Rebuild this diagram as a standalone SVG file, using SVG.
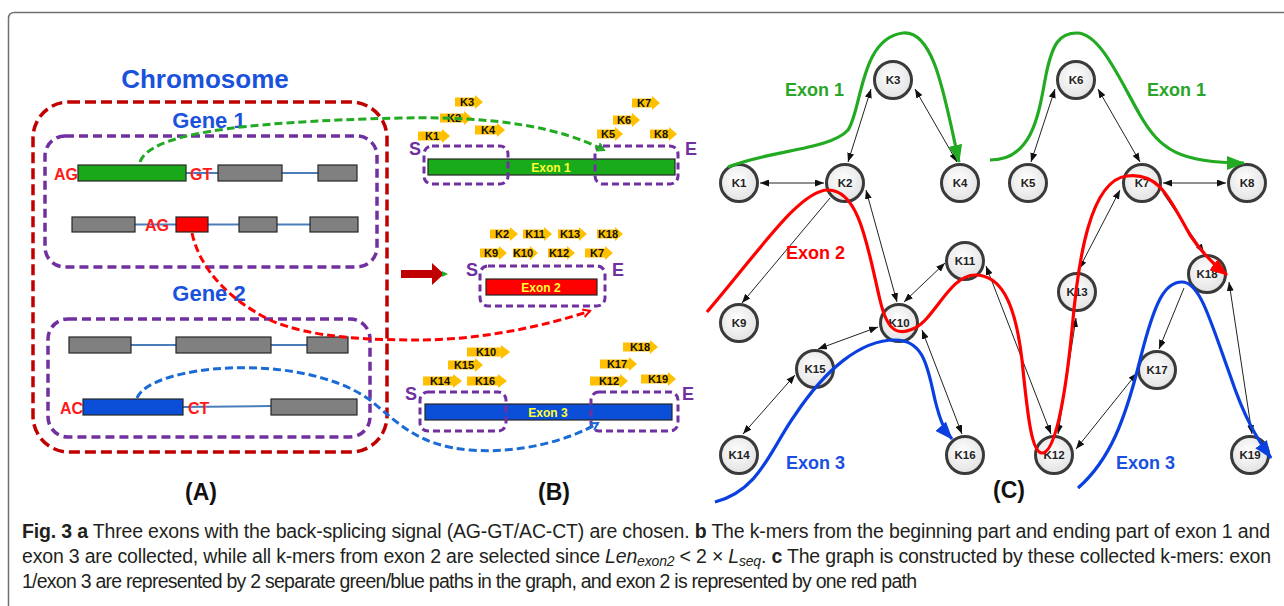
<svg xmlns="http://www.w3.org/2000/svg" width="1284" height="606" viewBox="0 0 1284 606">
<style>
.lbl{font-family:"Liberation Sans",Arial,sans-serif;font-weight:bold}
.blue{fill:#1a52dc}
.sig{fill:#ff1a1a;font-size:16px}
.ex{stroke:#262626;stroke-width:1.2}
.gray{fill:#808080}
.intron{stroke:#4a7ebb;stroke-width:2;fill:none}
.chrom{fill:none;stroke:#c00000;stroke-width:3.5;stroke-dasharray:11 5}
.gene{fill:none;stroke:#7030a0;stroke-width:3.5;stroke-dasharray:9 5}
.sbox{fill:none;stroke:#7030a0;stroke-width:3;stroke-dasharray:7 4}
.se{fill:#7030a0;font-size:18px}
.km{fill:#ffc000}
.kt{font-size:11px;fill:#111;text-anchor:middle}
.barT{fill:#ffff33;font-size:12px;text-anchor:middle}
.node circle{fill:url(#ng);stroke:#3a3a3a;stroke-width:3}
.node text{font-family:"Liberation Sans",Arial,sans-serif;font-weight:bold;font-size:11.5px;fill:#222;text-anchor:middle}
.edge{stroke:#222;stroke-width:1;fill:none}
.dbl{marker-start:url(#ah);marker-end:url(#ah)}
.one{marker-end:url(#ah)}
.cap{font-family:"Liberation Sans",Arial,sans-serif;font-size:19.5px;fill:#231f20}
</style>
<defs>
<radialGradient id="ng" cx="0.45" cy="0.4" r="0.6">
<stop offset="0" stop-color="#ffffff"/>
<stop offset="1" stop-color="#e2e2e2"/>
</radialGradient>
<marker id="ah" markerUnits="userSpaceOnUse" markerWidth="9" markerHeight="7" refX="9" refY="3.5" orient="auto-start-reverse">
<path d="M0,0 L9,3.5 L0,7 Z" fill="#111"/>
</marker>
<marker id="mg" markerUnits="userSpaceOnUse" markerWidth="18" markerHeight="14" refX="17" refY="7" orient="auto">
<path d="M0,0 L18,7 L0,14 Z" fill="#22aa22"/>
</marker>
<marker id="mr" markerUnits="userSpaceOnUse" markerWidth="18" markerHeight="14" refX="17" refY="7" orient="auto">
<path d="M0,0 L18,7 L0,14 Z" fill="#ff0000"/>
</marker>
<marker id="mb" markerUnits="userSpaceOnUse" markerWidth="18" markerHeight="14" refX="17" refY="7" orient="auto">
<path d="M0,0 L18,7 L0,14 Z" fill="#0a3fe0"/>
</marker>
<marker id="og" markerUnits="userSpaceOnUse" markerWidth="10" markerHeight="10" refX="8" refY="5" orient="auto">
<path d="M1,1 L8,5 L1,9" fill="none" stroke="#22aa22" stroke-width="2"/>
</marker>
<marker id="or" markerUnits="userSpaceOnUse" markerWidth="10" markerHeight="10" refX="8" refY="5" orient="auto">
<path d="M1,1 L8,5 L1,9" fill="none" stroke="#ff0000" stroke-width="2"/>
</marker>
<marker id="ob" markerUnits="userSpaceOnUse" markerWidth="10" markerHeight="10" refX="8" refY="5" orient="auto">
<path d="M1,1 L8,5 L1,9" fill="none" stroke="#1b6bd6" stroke-width="2"/>
</marker>
</defs>

<rect width="1284" height="606" fill="#ffffff"/>
<path d="M8.5,606 L8.5,18.5 Q8.5,12.5 14.5,12.5 L1284,12.5" fill="none" stroke="#707070" stroke-width="1.5"/>

<!-- Panel A -->
<g id="panelA">
<text class="lbl blue" x="205" y="88" font-size="26" text-anchor="middle">Chromosome</text>
<rect id="chromosome" class="chrom" x="33" y="102" width="354" height="350" rx="36"/>
<g id="gene1">
<text class="lbl blue" x="209" y="128" font-size="22" text-anchor="middle">Gene 1</text>
<rect class="gene" x="45" y="136" width="332" height="131" rx="20"/>
<line class="intron" x1="186" y1="173" x2="218" y2="173"/>
<line class="intron" x1="282" y1="173" x2="318" y2="173"/>
<text class="lbl sig" x="54" y="180">AG</text>
<rect class="ex" x="78" y="165" width="108" height="16" fill="#19a819"/>
<text class="lbl sig" x="190" y="180">GT</text>
<rect class="ex gray" x="218" y="165" width="64" height="16"/>
<rect class="ex gray" x="318" y="165" width="39" height="16"/>
<line class="intron" x1="135" y1="224.5" x2="176" y2="224.5"/>
<line class="intron" x1="208" y1="224.5" x2="239" y2="224.5"/>
<line class="intron" x1="277" y1="224.5" x2="310" y2="224.5"/>
<rect class="ex gray" x="72" y="217" width="63" height="15"/>
<text class="lbl sig" x="145" y="231">AG</text>
<rect class="ex" x="176" y="217" width="32" height="15" fill="#ff0000"/>
<rect class="ex gray" x="239" y="217" width="38" height="15"/>
<rect class="ex gray" x="310" y="217" width="48" height="15"/>
</g>
<g id="gene2">
<text class="lbl blue" x="209" y="301" font-size="22" text-anchor="middle">Gene 2</text>
<rect class="gene" x="48" y="319" width="322" height="118" rx="20"/>
<line class="intron" x1="131" y1="345" x2="176" y2="345"/>
<line class="intron" x1="271" y1="345" x2="307" y2="345"/>
<rect class="ex gray" x="69" y="337" width="62" height="16"/>
<rect class="ex gray" x="176" y="337" width="95" height="16"/>
<rect class="ex gray" x="307" y="337" width="41" height="16"/>
<line class="intron" x1="183" y1="407" x2="271" y2="406"/>
<text class="lbl sig" x="60" y="414">AC</text>
<rect class="ex" x="83" y="399" width="100" height="16" fill="#0b4fd8"/>
<text class="lbl sig" x="188" y="414">CT</text>
<rect class="ex gray" x="271" y="399" width="86" height="16"/>
</g>
<text class="lbl" x="201" y="500" font-size="23" text-anchor="middle" fill="#111">(A)</text>
</g>

<!-- Panel B -->
<g id="panelB">
<g id="exon1">
<rect class="ex" x="428" y="159" width="247" height="16" fill="#1aab1a"/>
<text class="lbl barT" x="551" y="171.5">Exon 1</text>
<rect class="sbox" x="424" y="146" width="84" height="38" rx="8"/>
<rect class="sbox" x="595" y="146" width="83" height="38" rx="8"/>
<text class="lbl se" x="409" y="155">S</text>
<text class="lbl se" x="685" y="155">E</text>
<g class="lbl">
<path class="km" d="M455,97.5 h20 v-2.5 l8,7 l-8,7 v-2.5 h-20 z"/><text class="kt" x="467" y="106">K3</text>
<path class="km" d="M440,113.5 h24 v-2.5 l8,7 l-8,7 v-2.5 h-24 z"/><text class="kt" x="454" y="122">K2</text>
<path class="km" d="M475,125.5 h22 v-2.5 l8,7 l-8,7 v-2.5 h-22 z"/><text class="kt" x="488" y="134">K4</text>
<path class="km" d="M418,131.5 h24 v-2.5 l8,7 l-8,7 v-2.5 h-24 z"/><text class="kt" x="432" y="140">K1</text>
<path class="km" d="M632,98.5 h20 v-2.5 l8,7 l-8,7 v-2.5 h-20 z"/><text class="kt" x="644" y="107">K7</text>
<path class="km" d="M613,115.5 h19 v-2.5 l8,7 l-8,7 v-2.5 h-19 z"/><text class="kt" x="624" y="124">K6</text>
<path class="km" d="M597,129.5 h18 v-2.5 l8,7 l-8,7 v-2.5 h-18 z"/><text class="kt" x="608" y="138">K5</text>
<path class="km" d="M650,129.5 h19 v-2.5 l8,7 l-8,7 v-2.5 h-19 z"/><text class="kt" x="661" y="138">K8</text>
</g>
</g>
<g id="exon2">
<rect class="ex" x="486" y="279" width="111" height="16" fill="#ff0000"/>
<text class="lbl barT" x="541" y="291.5">Exon 2</text>
<rect class="sbox" x="480" y="266" width="125" height="40" rx="8"/>
<text class="lbl se" x="466" y="276">S</text>
<text class="lbl se" x="612" y="276">E</text>
<g class="lbl">
<path class="km" d="M490,229.5 h20 v-2.5 l8,7 l-8,7 v-2.5 h-20 z"/><text class="kt" x="502" y="238">K2</text>
<path class="km" d="M523,229.5 h21 v-2.5 l8,7 l-8,7 v-2.5 h-21 z"/><text class="kt" x="535" y="238">K11</text>
<path class="km" d="M558,229.5 h21 v-2.5 l8,7 l-8,7 v-2.5 h-21 z"/><text class="kt" x="570" y="238">K13</text>
<path class="km" d="M597,229.5 h18 v-2.5 l8,7 l-8,7 v-2.5 h-18 z"/><text class="kt" x="608" y="238">K18</text>
<path class="km" d="M480,248.5 h19 v-2.5 l8,7 l-8,7 v-2.5 h-19 z"/><text class="kt" x="491" y="257">K9</text>
<path class="km" d="M513,248.5 h17 v-2.5 l8,7 l-8,7 v-2.5 h-17 z"/><text class="kt" x="523" y="257">K10</text>
<path class="km" d="M548,248.5 h19 v-2.5 l8,7 l-8,7 v-2.5 h-19 z"/><text class="kt" x="559" y="257">K12</text>
<path class="km" d="M585,248.5 h20 v-2.5 l8,7 l-8,7 v-2.5 h-20 z"/><text class="kt" x="597" y="257">K7</text>
</g>
</g>
<g id="exon3">
<rect class="ex" x="425" y="404" width="247" height="16" fill="#0b4fd8"/>
<text class="lbl barT" x="548" y="416.5">Exon 3</text>
<rect class="sbox" x="420" y="392" width="86" height="39" rx="8"/>
<rect class="sbox" x="591" y="392" width="87" height="39" rx="8"/>
<text class="lbl se" x="405" y="400">S</text>
<text class="lbl se" x="682" y="400">E</text>
<g class="lbl">
<path class="km" d="M467,347.5 h34 v-2.5 l9,7 l-9,7 v-2.5 h-34 z"/><text class="kt" x="486" y="356">K10</text>
<path class="km" d="M448,360.5 h27 v-2.5 l8,7 l-8,7 v-2.5 h-27 z"/><text class="kt" x="464" y="369">K15</text>
<path class="km" d="M423,376.5 h30 v-2.5 l9,7 l-9,7 v-2.5 h-30 z"/><text class="kt" x="440" y="385">K14</text>
<path class="km" d="M467,376.5 h31 v-2.5 l9,7 l-9,7 v-2.5 h-31 z"/><text class="kt" x="485" y="385">K16</text>
<path class="km" d="M623,342.5 h27 v-2.5 l8,7 l-8,7 v-2.5 h-27 z"/><text class="kt" x="640" y="351">K18</text>
<path class="km" d="M600,359.5 h29 v-2.5 l8,7 l-8,7 v-2.5 h-29 z"/><text class="kt" x="617" y="368">K17</text>
<path class="km" d="M590,376.5 h30 v-2.5 l8,7 l-8,7 v-2.5 h-30 z"/><text class="kt" x="609" y="385">K12</text>
<path class="km" d="M641,374.5 h27 v-2.5 l8,7 l-8,7 v-2.5 h-27 z"/><text class="kt" x="658" y="383">K19</text>
</g>
</g>
<g id="bigArrow">
<path d="M401,270 h31 v-7 l12,11 l-12,11 v-7 h-31 z" fill="#c00000"/>
<path d="M442,271 l6,3 l-6,3 z" fill="#22aa22"/>
</g>
<text class="lbl" x="554" y="500" font-size="23" text-anchor="middle" fill="#111">(B)</text>
</g>

<!-- dashed links from panel A to panel B -->
<g id="links" fill="none" stroke-width="3" stroke-dasharray="8 4">
<path d="M140,162 C150,135 230,122 400,118 C500,116 560,128 604,150" stroke="#22aa22" marker-end="url(#og)"/>
<path d="M192,233 C200,270 230,300 270,320 C310,338 370,340 420,340 C480,340 545,326 590,311" stroke="#ff0000" marker-end="url(#or)"/>
<path d="M137,398 C150,365 300,350 370,400 C400,425 420,446 470,450 C520,454 570,440 598,423" stroke="#1b6bd6" marker-end="url(#ob)"/>
</g>

<!-- Panel C -->
<g id="connectors">
<line class="edge dbl" x1="760" y1="183" x2="824" y2="183"/>
<line class="edge dbl" x1="871" y1="89" x2="848" y2="162"/>
<line class="edge dbl" x1="915" y1="89" x2="957" y2="162"/>
<line class="edge dbl" x1="1055" y1="89" x2="1031" y2="162"/>
<line class="edge dbl" x1="1098" y1="89" x2="1140" y2="162"/>
<line class="edge dbl" x1="1163" y1="183" x2="1226" y2="183"/>
<line class="edge one" x1="830" y1="198" x2="742" y2="303"/>
<line class="edge dbl" x1="866" y1="190" x2="897" y2="302"/>
<line class="edge dbl" x1="904" y1="302" x2="945" y2="263"/>
<line class="edge dbl" x1="878" y1="327" x2="818" y2="349"/>
<line class="edge dbl" x1="795" y1="375" x2="743" y2="434"/>
<line class="edge dbl" x1="922" y1="330" x2="962" y2="434"/>
<line class="edge dbl" x1="986" y1="266" x2="1051" y2="434"/>
<line class="edge dbl" x1="1076" y1="318" x2="1058" y2="434"/>
<line class="edge dbl" x1="1120" y1="190" x2="1079" y2="269"/>
<line class="edge one" x1="1163" y1="193" x2="1204" y2="253"/>
<line class="edge one" x1="1184" y1="288" x2="1159" y2="349"/>
<line class="edge dbl" x1="1229" y1="282" x2="1252" y2="434"/>
<line class="edge dbl" x1="1137" y1="373" x2="1076" y2="449"/>
</g>

<g id="K1" class="node"><circle cx="739" cy="183" r="18.5"/><text x="739" y="187">K1</text></g>
<g id="K2" class="node"><circle cx="845" cy="183" r="18.5"/><text x="845" y="187">K2</text></g>
<g id="K3" class="node"><circle cx="893" cy="80" r="18.5"/><text x="893" y="84">K3</text></g>
<g id="K4" class="node"><circle cx="960" cy="183" r="18.5"/><text x="960" y="187">K4</text></g>
<g id="K5" class="node"><circle cx="1028" cy="183" r="18.5"/><text x="1028" y="187">K5</text></g>
<g id="K6" class="node"><circle cx="1076" cy="80" r="18.5"/><text x="1076" y="84">K6</text></g>
<g id="K7" class="node"><circle cx="1142" cy="183" r="18.5"/><text x="1142" y="187">K7</text></g>
<g id="K8" class="node"><circle cx="1247" cy="183" r="18.5"/><text x="1247" y="187">K8</text></g>
<g id="K9" class="node"><circle cx="739" cy="323" r="18.5"/><text x="739" y="327">K9</text></g>
<g id="K10" class="node"><circle cx="899" cy="323" r="18.5"/><text x="899" y="327">K10</text></g>
<g id="K11" class="node"><circle cx="965" cy="261" r="18.5"/><text x="965" y="265">K11</text></g>
<g id="K12" class="node"><circle cx="1054" cy="455" r="18.5"/><text x="1054" y="459">K12</text></g>
<g id="K13" class="node"><circle cx="1077" cy="292" r="18.5"/><text x="1077" y="296">K13</text></g>
<g id="K14" class="node"><circle cx="739" cy="455" r="18.5"/><text x="739" y="459">K14</text></g>
<g id="K15" class="node"><circle cx="815" cy="369" r="18.5"/><text x="815" y="373">K15</text></g>
<g id="K16" class="node"><circle cx="965" cy="455" r="18.5"/><text x="965" y="459">K16</text></g>
<g id="K17" class="node"><circle cx="1157" cy="370" r="18.5"/><text x="1157" y="374">K17</text></g>
<g id="K18" class="node"><circle cx="1207" cy="274" r="18.5"/><text x="1207" y="278">K18</text></g>
<g id="K19" class="node"><circle cx="1250" cy="455" r="18.5"/><text x="1250" y="459">K19</text></g>

<g id="exonPaths" fill="none" stroke-width="3.2">
<path d="M728,167 C770,150 830,150 848,130 C862,110 860,38 903,33 C935,30 945,100 959,162" stroke="#22aa22" marker-end="url(#mg)"/>
<path d="M990,160 C1030,160 1038,120 1045,80 C1052,42 1060,33 1077,33 C1100,33 1120,80 1140,115 C1160,150 1180,163 1244,163" stroke="#22aa22" marker-end="url(#mg)"/>
<path d="M707,312 C760,250 800,190 828,190 C860,190 868,250 880,300 C888,335 900,335 915,328 C935,318 950,275 975,275 C1000,275 1015,300 1022,360 C1028,420 1032,453 1042,453 C1055,453 1065,400 1072,330 C1078,260 1090,180 1127,176 C1160,172 1170,200 1190,235 C1200,250 1210,262 1227,275" stroke="#ff0000" marker-end="url(#mr)"/>
<path d="M715,502 C760,490 770,450 795,415 C825,370 860,340 895,340 C925,340 928,370 935,400 C940,420 944,430 952,439" stroke="#0a3fe0" marker-end="url(#mb)"/>
<path d="M1078,488 C1110,460 1125,420 1140,360 C1155,300 1165,282 1182,282 C1200,282 1210,320 1230,375 C1245,420 1258,440 1271,458" stroke="#0a3fe0" marker-end="url(#mb)"/>
</g>
<g id="exonLabels" class="lbl" font-size="18">
<text x="785" y="96" fill="#2aa52a">Exon 1</text>
<text x="1147" y="96" fill="#2aa52a">Exon 1</text>
<text x="786" y="259" fill="#ff0000">Exon 2</text>
<text x="786" y="469" fill="#1a4fe0">Exon 3</text>
<text x="1116" y="469" fill="#1a4fe0">Exon 3</text>
</g>
<text class="lbl" x="1009" y="498" font-size="23" text-anchor="middle" fill="#111">(C)</text>

<!-- Caption -->
<g id="caption">
<text class="cap" x="22" y="538" textLength="1248" lengthAdjust="spacing"><tspan font-weight="bold">Fig. 3 a</tspan> Three exons with the back-splicing signal (AG-GT/AC-CT) are chosen. <tspan font-weight="bold">b</tspan> The k-mers from the beginning part and ending part of exon 1 and</text>
<text class="cap" x="22" y="563" textLength="1249" lengthAdjust="spacing">exon 3 are collected, while all k-mers from exon 2 are selected since <tspan font-style="italic">Len</tspan><tspan font-style="italic" font-size="14" dy="3">exon2</tspan><tspan dy="-3"> &lt; 2 × </tspan><tspan font-style="italic">L</tspan><tspan font-style="italic" font-size="14" dy="3">seq</tspan><tspan dy="-3">. </tspan><tspan font-weight="bold">c</tspan> The graph is constructed by these collected k-mers: exon</text>
<text class="cap" x="22" y="588" textLength="895" lengthAdjust="spacing">1/exon 3 are represented by 2 separate green/blue paths in the graph, and exon 2 is represented by one red path</text>
</g>
</svg>
